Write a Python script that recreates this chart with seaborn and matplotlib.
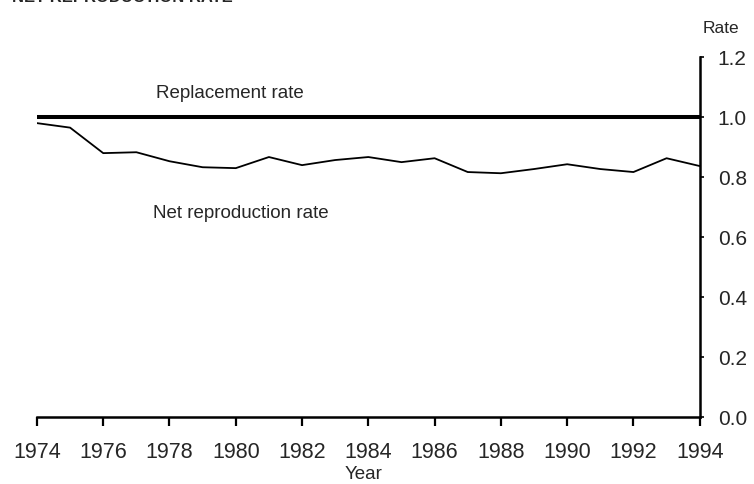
import pandas as pd
import matplotlib.pyplot as plt
import seaborn as sns

years = list(range(1974, 1995))
net_rate = [0.98, 0.965, 0.88, 0.883, 0.853, 0.833, 0.83, 0.867, 0.84, 0.857, 0.867,
            0.85, 0.863, 0.817, 0.813, 0.827, 0.843, 0.827, 0.817, 0.863, 0.837]
replacement = [1.0] * len(years)
y_ticks = [0.0, 0.2, 0.4, 0.6, 0.8, 1.0, 1.2]
x_ticks = list(range(1974, 1995, 2))

df = pd.DataFrame({'year': years, 'net': net_rate, 'replacement': replacement})

sns.set_style('ticks')
plt.rcParams['font.family'] = ['Liberation Sans', 'DejaVu Sans']

fig = plt.figure(figsize=(7.54, 4.84), dpi=100)
ax = fig.add_axes([0.049, 0.138, 0.879, 0.744])

sns.lineplot(data=df, x='year', y='replacement', ax=ax, color='black', linewidth=2.9)
sns.lineplot(data=df, x='year', y='net', ax=ax, color='black', linewidth=1.3)

ax.set_xlim(1974, 1994)
ax.set_ylim(0, 1.2)
ax.set_xticks(x_ticks)
ax.set_yticks(y_ticks)
ax.set_yticklabels([f'{v:.1f}' for v in y_ticks])
ax.yaxis.tick_right()
ax.tick_params(axis='x', labelsize=15.5, length=6.5, width=1.6, pad=11, color='black')
ax.tick_params(axis='y', labelsize=15, length=3, width=1.2, pad=10, color='black')

for side in ['left', 'top']:
    ax.spines[side].set_visible(False)
for side in ['right', 'bottom']:
    ax.spines[side].set_linewidth(1.8)
    ax.spines[side].set_color('black')

ax.set_xlabel('Year', fontsize=13.5)
ax.xaxis.set_label_coords(0.493, -0.135)
ax.set_ylabel('')
ax.text(1.005, 1.08, 'Rate', transform=ax.transAxes, fontsize=12.5, ha='left', va='center')
ax.text(1977.6, 1.08, 'Replacement rate', fontsize=13.5, ha='left', va='center')
ax.text(1977.5, 0.68, 'Net reproduction rate', fontsize=13.5, ha='left', va='center')

fig.text(0.016, 0.99, 'NET REPRODUCTION RATE', fontsize=12, fontweight='bold', ha='left', va='bottom')

fig.savefig('out.png', dpi=100)
